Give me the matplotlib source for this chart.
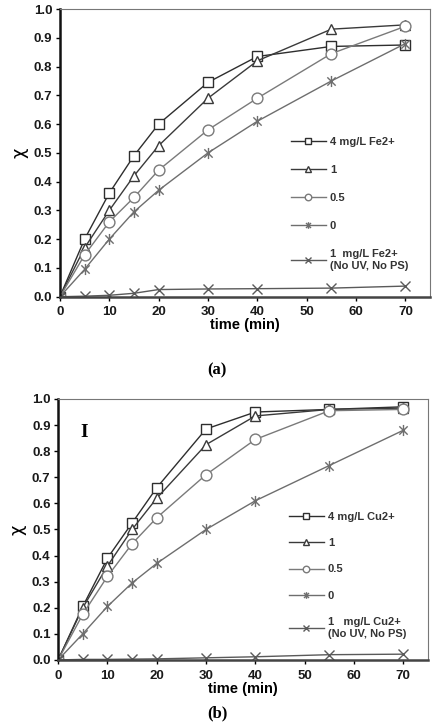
import numpy as np
import matplotlib
matplotlib.use('Agg')
import matplotlib.pyplot as plt
from matplotlib.path import Path

plt.rcParams['font.family'] = ['Liberation Sans', 'DejaVu Sans']

# sampling times (min)
time = [0, 5, 10, 15, 20, 30, 40, 55, 70]

# (a) Fe2+
fe_4 = [0, 0.20, 0.36, 0.49, 0.60, 0.745, 0.835, 0.87, 0.875]
fe_1 = [0, 0.17, 0.30, 0.42, 0.525, 0.69, 0.82, 0.93, 0.945]
fe_05 = [0, 0.145, 0.26, 0.345, 0.44, 0.58, 0.69, 0.845, 0.94]
fe_0 = [0, 0.095, 0.20, 0.295, 0.37, 0.50, 0.61, 0.75, 0.88]
fe_ctrl = [0, 0.002, 0.005, 0.012, 0.025, 0.027, 0.028, 0.030, 0.037]

# (b) Cu2+
cu_4 = [0, 0.205, 0.39, 0.525, 0.66, 0.885, 0.95, 0.96, 0.97]
cu_1 = [0, 0.20, 0.36, 0.50, 0.62, 0.825, 0.935, 0.96, 0.965]
cu_05 = [0, 0.175, 0.32, 0.445, 0.545, 0.71, 0.845, 0.955, 0.96]
cu_0 = [0, 0.10, 0.205, 0.295, 0.37, 0.50, 0.61, 0.745, 0.88]
cu_ctrl = [0, 0.002, 0.002, 0.003, 0.004, 0.008, 0.012, 0.020, 0.022]

xticks = [0, 10, 20, 30, 40, 50, 60, 70]
yticks = [0.0, 0.1, 0.2, 0.3, 0.4, 0.5, 0.6, 0.7, 0.8, 0.9, 1.0]

# Excel-style asterisk marker: X plus vertical bar
star = Path([(0, -1), (0, 1), (-0.75, -0.75), (0.75, 0.75), (-0.75, 0.75), (0.75, -0.75)],
            [Path.MOVETO, Path.LINETO, Path.MOVETO, Path.LINETO, Path.MOVETO, Path.LINETO])


def panel(ax, series, labels, leg_y, leg_space):
    styles = [
        dict(marker='s', color='#2e2e2e', ms=7.8),
        dict(marker='^', color='#3a3a3a', ms=7.8),
        dict(marker='o', color='#7a7a7a', ms=7.8),
        dict(marker=star, color='#6e6e6e', ms=8),
        dict(marker='x', color='#5a5a5a', ms=7),
    ]
    for y, lab, st in zip(series, labels, styles):
        ax.plot(time, y, '-', color=st['color'], lw=1.0, marker=st['marker'],
                ms=st['ms'], mfc='white', mec=st['color'], mew=1.0, label=lab)
    ax.set_xlim(0, 75)
    ax.set_ylim(0, 1.0)
    ax.set_xticks(xticks)
    ax.set_yticks(yticks)
    ax.set_yticklabels([f'{v:.1f}' for v in yticks])
    for lab in ax.get_xticklabels() + ax.get_yticklabels():
        lab.set_fontweight('bold')
        lab.set_fontsize(9.5)
        lab.set_color('#1a1a1a')
    ax.tick_params(direction='out', length=3, width=1, pad=2.5)
    ax.tick_params(axis='x', pad=4)
    ax.spines['left'].set_linewidth(1.8)
    ax.spines['left'].set_color('#111111')
    ax.spines['bottom'].set_linewidth(1.8)
    ax.spines['bottom'].set_color('#444444')
    for s in ['top', 'right']:
        ax.spines[s].set_linewidth(0.8)
        ax.spines[s].set_color('#777777')
    ax.set_xlabel('time (min)', fontsize=10.5, fontweight='bold', labelpad=0)
    ax.set_ylabel('χ', fontsize=13, labelpad=4, family='DejaVu Sans')
    leg = ax.legend(loc='upper left', bbox_to_anchor=(0.608, leg_y), frameon=False,
                    prop=dict(weight='bold', size=8), handlelength=3.2,
                    handletextpad=0.35, labelspacing=leg_space, borderpad=0,
                    markerscale=0.6)
    for t in leg.get_texts():
        t.set_color('#333333')


fig = plt.figure(figsize=(4.34, 7.22), dpi=100)
ax1 = fig.add_axes([0.138, 0.589, 0.853, 0.3985])
ax2 = fig.add_axes([0.134, 0.086, 0.852, 0.3614])

panel(ax1, [fe_4, fe_1, fe_05, fe_0, fe_ctrl],
      ['4 mg/L Fe2+', '1', '0.5', '0', '1  mg/L Fe2+\n(No UV, No PS)'], 0.575, 1.63)
panel(ax2, [cu_4, cu_1, cu_05, cu_0, cu_ctrl],
      ['4 mg/L Cu2+', '1', '0.5', '0', '1   mg/L Cu2+\n(No UV, No PS)'], 0.588, 1.46)

ax2.text(0.07, 0.87, 'I', transform=ax2.transAxes, family='Liberation Serif',
         fontweight='bold', fontsize=14, ha='center', va='center')

fig.text(0.5, 1 - 370 / 722, '(a)', ha='center', va='center',
         family='Liberation Serif', fontweight='bold', fontsize=12)
fig.text(0.5, 1 - 713 / 722, '(b)', ha='center', va='center',
         family='Liberation Serif', fontweight='bold', fontsize=12)

fig.savefig('out.png', dpi=100)
